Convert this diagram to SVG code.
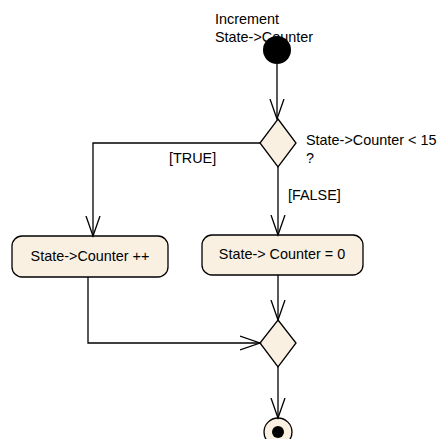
<svg xmlns="http://www.w3.org/2000/svg" width="441" height="439" viewBox="0 0 441 439">
<style>
text{font-family:"Liberation Sans",Arial,sans-serif;font-size:14.4px;fill:#000}
.n{fill:#FAF0E2;stroke:#000;stroke-width:1.3}
.c{fill:none;stroke:#000;stroke-width:1.3}
</style>
<defs>
<marker id="a" markerWidth="22" markerHeight="16" refX="20" refY="8" orient="auto" markerUnits="userSpaceOnUse">
<path d="M0,1 L20,8 L0,15" fill="none" stroke="#000" stroke-width="1.3"/>
</marker>
</defs>
<g id="start">
<circle cx="277" cy="50" r="14" fill="#000"/>
<text x="215" y="24">Increment</text>
<text x="215" y="42">State-&gt;Counter</text>
</g>
<g id="decision">
<path class="n" d="M278,119 L296,143 L278,167 L260,143 Z"/>
<text x="306" y="145">State-&gt;Counter &lt; 15</text>
<text x="306" y="163">?</text>
</g>
<g id="inc">
<rect class="n" x="12" y="236" width="156" height="41" rx="10"/>
<text x="90" y="261" text-anchor="middle">State-&gt;Counter ++</text>
</g>
<g id="reset">
<rect class="n" x="202" y="235" width="161" height="40" rx="10"/>
<text x="282" y="259" text-anchor="middle">State-&gt; Counter = 0</text>
</g>
<g id="merge">
<path class="n" d="M278,320 L296,343 L278,367 L260,343 Z"/>
</g>
<g id="end">
<circle class="n" cx="278" cy="432" r="14"/>
<circle cx="278" cy="432" r="6" fill="#000"/>
</g>
<g id="connectors">
<path class="c" d="M277,64 L277,119" marker-end="url(#a)"/>
<path class="c" d="M260,143 L93,143 L93,236" marker-end="url(#a)"/>
<path class="c" d="M278,167 L278,235" marker-end="url(#a)"/>
<text x="169" y="163">[TRUE]</text>
<text x="288" y="200">[FALSE]</text>
<path class="c" d="M278,275 L278,320" marker-end="url(#a)"/>
<path class="c" d="M88,277 L88,343 L260,343" marker-end="url(#a)"/>
<path class="c" d="M278,367 L278,418" marker-end="url(#a)"/>
</g>
</svg>
